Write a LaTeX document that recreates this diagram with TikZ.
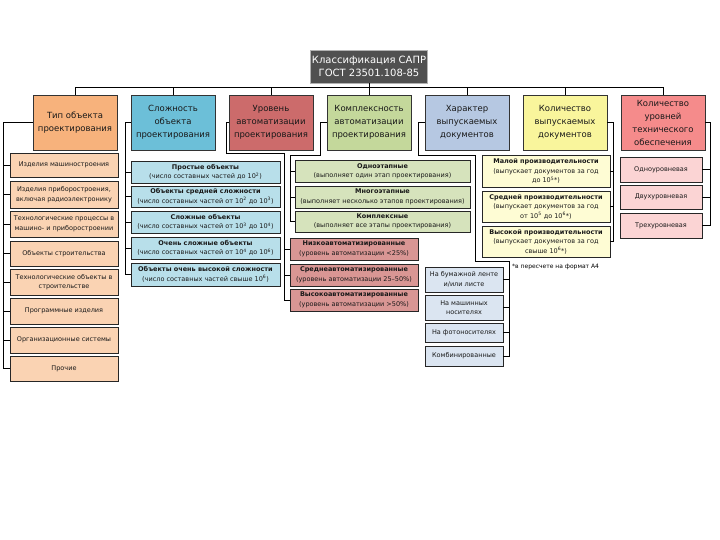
\documentclass[tikz,border=0pt]{standalone}
\usepackage{fontspec}
\setmainfont{DejaVu Sans}
\definecolor{cT}{HTML}{505050}
\definecolor{c1}{HTML}{F7B27C}
\definecolor{c2}{HTML}{6CBFD8}
\definecolor{c3}{HTML}{CC6B6B}
\definecolor{c4}{HTML}{C4D89B}
\definecolor{c5}{HTML}{B6C8E2}
\definecolor{c6}{HTML}{F9F59C}
\definecolor{c7}{HTML}{F58B8B}
\definecolor{k1}{HTML}{FAD3B3}
\definecolor{k2}{HTML}{B8DFEA}
\definecolor{k3}{HTML}{D99694}
\definecolor{k4}{HTML}{D6E3BC}
\definecolor{k5}{HTML}{DBE5F1}
\definecolor{k6}{HTML}{FEFCD4}
\definecolor{k7}{HTML}{FBD4D4}
\begin{document}
\begin{tikzpicture}[x=1pt,y=-1pt,
  titlebox/.style={draw=gray!60, fill=cT, text=white, align=center, inner sep=1pt,
    minimum width=117pt, minimum height=33pt, font=\fontsize{10}{13}\selectfont},
  topbox/.style={draw=black!80, line width=0.7pt, align=center, inner sep=1pt,
    minimum width=84pt, minimum height=55pt, font=\fontsize{8.5}{13}\selectfont, text=black!90},
  kid/.style={draw=black!85, line width=0.7pt, align=center, inner sep=1pt,
    font=\fontsize{6.5}{9.5}\selectfont, text=black!90},
  conn/.style={draw=black, line width=0.7pt}]
\useasboundingbox (0,0) rectangle (720,540);
\fill[white] (0,0) rectangle (720,540);

% title
\node[titlebox] (title) at (369,66.5) {Классификация САПР\\ГОСТ 23501.108-85};

% top row
\node[topbox, fill=c1] (t1) at (75,122.5) {Тип объекта\\проектирования};
\node[topbox, fill=c2] (t2) at (173,122.5) {Сложность\\объекта\\проектирования};
\node[topbox, fill=c3] (t3) at (271,122.5) {Уровень\\автоматизации\\проектирования};
\node[topbox, fill=c4] (t4) at (369,122.5) {Комплексность\\автоматизации\\проектирования};
\node[topbox, fill=c5] (t5) at (467,122.5) {Характер\\выпускаемых\\документов};
\node[topbox, fill=c6] (t6) at (565,122.5) {Количество\\выпускаемых\\документов};
\node[topbox, fill=c7] (t7) at (663,122.5) {Количество\\уровней\\технического\\обеспечения};

\coordinate (bus) at (369,87);
\draw[conn] (title.south) -- (bus);
\foreach \t in {t1,t2,t3,t4,t5,t6,t7} \draw[conn] (\t.north) |- (bus);

% type of object
\begin{scope}[every node/.style={kid, fill=k1, minimum width=108pt}]
\node[minimum height=24pt] (l1) at (64,165) {Изделия машиностроения};
\node[minimum height=27pt] (l2) at (64,194.5) {Изделия приборостроения,\\включая радиоэлектронику};
\node[minimum height=26pt] (l3) at (64,224) {Технологические процессы в\\машино- и приборостроении};
\node[minimum height=25pt] (l4) at (64,253.5) {Объекты строительства};
\node[minimum height=26pt] (l5) at (64,282) {Технологические объекты в\\строительстве};
\node[minimum height=26pt] (l6) at (64,311) {Программные изделия};
\node[minimum height=26pt] (l7) at (64,340) {Организационные системы};
\node[minimum height=25pt] (l8) at (64,368.5) {Прочие};
\end{scope}
\coordinate (b1) at (3,0);
\draw[conn] (t1.west) -- (t1.west -| b1) |- (l8.west);
\foreach \n in {l1,l2,l3,l4,l5,l6,l7} \draw[conn] (\n.west) -- (\n.west -| b1);

% complexity of object
\begin{scope}[every node/.style={kid, fill=k2, minimum width=149pt, line width=0.9pt}]
\node[minimum height=22pt] (c1) at (205.5,172) {\textbf{Простые объекты}\\(число составных частей до 10\textsuperscript{2})};
\node[minimum height=21pt] (c2) at (205.5,196.5) {\textbf{Объекты средней сложности}\\(число составных частей от 10\textsuperscript{2} до 10\textsuperscript{3})};
\node[minimum height=22pt] (c3) at (205.5,222) {\textbf{Сложные объекты}\\(число составных частей от 10\textsuperscript{3} до 10\textsuperscript{4})};
\node[minimum height=22pt] (c4) at (205.5,248) {\textbf{Очень сложные объекты}\\(число составных частей от 10\textsuperscript{4} до 10\textsuperscript{6})};
\node[minimum height=23pt] (c5) at (205.5,274.5) {\textbf{Объекты очень высокой сложности}\\(число составных частей свыше 10\textsuperscript{6})};
\end{scope}
\coordinate (b2) at (125,0);
\draw[conn] (t2.west) -- (t2.west -| b2) |- (c5.west);
\foreach \n in {c1,c2,c3,c4} \draw[conn] (\n.west) -- (\n.west -| b2);

% level of automation
\begin{scope}[every node/.style={kid, fill=k3, minimum width=128pt, minimum height=22pt}]
\node (r1) at (354,249) {\textbf{Низкоавтоматизированные}\\(уровень автоматизации <25\%)};
\node (r2) at (354,275) {\textbf{Среднеавтоматизированные}\\(уровень автоматизации 25–50\%)};
\node (r3) at (354,300) {\textbf{Высокоавтоматизированные}\\(уровень автоматизации >50\%)};
\end{scope}
\coordinate (b3a) at (226,153);
\coordinate (b3) at (284,153);
\draw[conn] (t3.west) -| (b3a) -- (b3) |- (r3.west);
\foreach \n in {r1,r2} \draw[conn] (\n.west) -- (\n.west -| b3);

% complexity of automation
\begin{scope}[every node/.style={kid, fill=k4, minimum width=175pt, minimum height=22pt}]
\node (g1) at (382.5,171.5) {\textbf{Одноэтапные}\\(выполняет один этап проектирования)};
\node (g2) at (382.5,197) {\textbf{Многоэтапные}\\(выполняет несколько этапов проектирования)};
\node[minimum height=21pt] (g3) at (382.5,221.5) {\textbf{Комплексные}\\(выполняет все этапы проектирования)};
\end{scope}
\coordinate (b4a) at (320,155);
\coordinate (b4) at (290,155);
\draw[conn] (t4.west) -| (b4a) -- (b4) |- (g3.west);
\foreach \n in {g1,g2} \draw[conn] (\n.west) -- (\n.west -| b4);

% character of documents
\begin{scope}[every node/.style={kid, fill=k5, minimum width=78pt}]
\node[minimum height=25pt] (o1) at (464,279.5) {На бумажной ленте\\и/или листе};
\node[minimum height=25pt] (o2) at (464,307.5) {На машинных\\носителях};
\node[minimum height=19pt] (o3) at (464,332.5) {На фотоносителях};
\node[minimum height=20pt] (o4) at (464,356) {Комбинированные};
\end{scope}
\coordinate (b5a) at (418,155);
\coordinate (b5b) at (475,155);
\coordinate (b5c) at (475,261);
\coordinate (b5) at (509,261);
\draw[conn] (t5.west) -| (b5a) -- (b5b) -- (b5c) -- (b5) |- (o4.east);
\foreach \n in {o1,o2,o3} \draw[conn] (\n.east) -- (\n.east -| b5);
\node[anchor=west, inner sep=0pt, font=\fontsize{6}{7}\selectfont] (fn) at (512,267) {*в пересчете на формат А4};

% quantity of documents
\begin{scope}[every node/.style={kid, fill=k6, minimum width=128pt}]
\node[minimum height=32pt] (y1) at (546,171) {\textbf{Малой производительности}\\(выпускает документов за год\\до 10\textsuperscript{5}*)};
\node[minimum height=31pt] (y2) at (546,206.5) {\textbf{Средней производительности}\\(выпускает документов за год\\от 10\textsuperscript{5} до 10\textsuperscript{6}*)};
\node[minimum height=31pt] (y3) at (546,241.5) {\textbf{Высокой производительности}\\(выпускает документов за год\\свыше 10\textsuperscript{6}*)};
\end{scope}
\coordinate (b6) at (613,0);
\draw[conn] (t6.east) -- (t6.east -| b6) |- (y3.east);
\foreach \n in {y1,y2} \draw[conn] (\n.east) -- (\n.east -| b6);

% levels of technical support
\begin{scope}[every node/.style={kid, fill=k7, minimum width=82pt}]
\node[minimum height=25pt] (q1) at (661,169.5) {Одноуровневая};
\node[minimum height=24pt] (q2) at (661,197) {Двухуровневая};
\node[minimum height=25pt] (q3) at (661,225.5) {Трехуровневая};
\end{scope}
\coordinate (b7) at (710,0);
\draw[conn] (t7.east) -- (t7.east -| b7) |- (q3.east);
\foreach \n in {q1,q2} \draw[conn] (\n.east) -- (\n.east -| b7);
\end{tikzpicture}
\end{document}
